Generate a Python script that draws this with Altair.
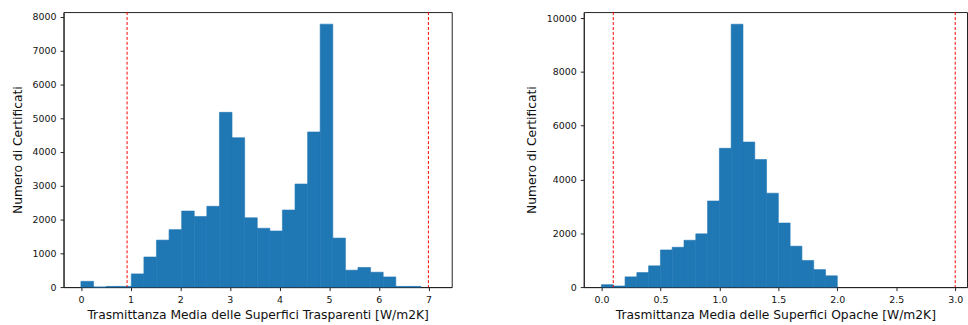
import altair as alt
import pandas as pd

# Left histogram: transparent surfaces
left_bin_start = [0.0, 0.254, 0.507, 0.761, 1.015, 1.269, 1.522, 1.776, 2.030, 2.283,
                  2.537, 2.791, 3.044, 3.298, 3.552, 3.806, 4.059, 4.313, 4.567, 4.820,
                  5.074, 5.328, 5.581, 5.835, 6.089, 6.343, 6.596]
left_bin_end = [0.254, 0.507, 0.761, 1.015, 1.269, 1.522, 1.776, 2.030, 2.283, 2.537,
                2.791, 3.044, 3.298, 3.552, 3.806, 4.059, 4.313, 4.567, 4.820, 5.074,
                5.328, 5.581, 5.835, 6.089, 6.343, 6.596, 6.850]
left_counts = [170, 0, 20, 20, 390, 890, 1390, 1700, 2250, 2090, 2390, 5170, 4420, 2050,
               1740, 1660, 2280, 3050, 4590, 7780, 1450, 500, 580, 440, 300, 20, 20]
left_limits = [0.93, 7.0]

# Right histogram: opaque surfaces
right_bin_start = [0.0, 0.1, 0.2, 0.3, 0.4, 0.5, 0.6, 0.7, 0.8, 0.9,
                   1.0, 1.1, 1.2, 1.3, 1.4, 1.5, 1.6, 1.7, 1.8, 1.9]
right_bin_end = [0.1, 0.2, 0.3, 0.4, 0.5, 0.6, 0.7, 0.8, 0.9, 1.0,
                 1.1, 1.2, 1.3, 1.4, 1.5, 1.6, 1.7, 1.8, 1.9, 2.0]
right_counts = [90, 40, 380, 540, 790, 1380, 1480, 1740, 1980, 3200,
                5160, 9770, 5390, 4740, 3490, 2380, 1520, 990, 650, 420]
right_limits = [0.1, 3.0]

y_title = "Numero di Certificati"
left_x_title = "Trasmittanza Media delle Superfici Trasparenti [W/m2K]"
right_x_title = "Trasmittanza Media delle Superfici Opache [W/m2K]"

BLUE = "#1f77b4"


def panel(starts, ends, counts, limits, xdom, ydom, xticks, yticks, xfmt, xtitle, width):
    df = pd.DataFrame({"start": starts, "end": ends, "count": counts})
    lines = pd.DataFrame({"v": limits})
    x = alt.X("start:Q", scale=alt.Scale(domain=xdom, nice=False, zero=False),
              axis=alt.Axis(values=xticks, format=xfmt, title=xtitle,
                            labelPadding=4, titlePadding=5))
    y = alt.Y("count:Q", scale=alt.Scale(domain=ydom, nice=False),
              axis=alt.Axis(values=yticks, format="d", title=y_title,
                            labelPadding=4, titlePadding=8))
    bars = alt.Chart(df).mark_rect(color=BLUE, stroke=BLUE, strokeWidth=0.6).encode(
        x=x, x2="end:Q", y=y, y2=alt.datum(0))
    rules = alt.Chart(lines).mark_rule(color="red", strokeDash=[3, 2], strokeWidth=1).encode(
        x=alt.X("v:Q"))
    return alt.layer(bars, rules).properties(width=width, height=277)


left = panel(left_bin_start, left_bin_end, left_counts, left_limits,
             [-0.35, 7.47], [0, 8137], [0, 1, 2, 3, 4, 5, 6, 7],
             [0, 1000, 2000, 3000, 4000, 5000, 6000, 7000, 8000], "d", left_x_title, 391)
right = panel(right_bin_start, right_bin_end, right_counts, right_limits,
              [-0.15, 3.1], [0, 10222], [0, 0.5, 1.0, 1.5, 2.0, 2.5, 3.0],
              [0, 2000, 4000, 6000, 8000, 10000], ".1f", right_x_title, 386)

chart = alt.hconcat(left, right, spacing=72).properties(
    padding={"left": 10, "top": 10, "right": 0, "bottom": 0},
    background="white",
).configure_view(stroke="#222", strokeWidth=1).configure_axis(
    grid=False,
    labelFont="DejaVu Sans",
    titleFont="DejaVu Sans",
    labelFontSize=9.5,
    titleFontSize=12.4,
    titleFontWeight="normal",
    labelColor="#111",
    titleColor="#111",
    domainColor="#222",
    tickColor="#222",
    tickSize=3.5,
)

chart.save("out.html", embed_options={"renderer": "svg", "actions": False})
